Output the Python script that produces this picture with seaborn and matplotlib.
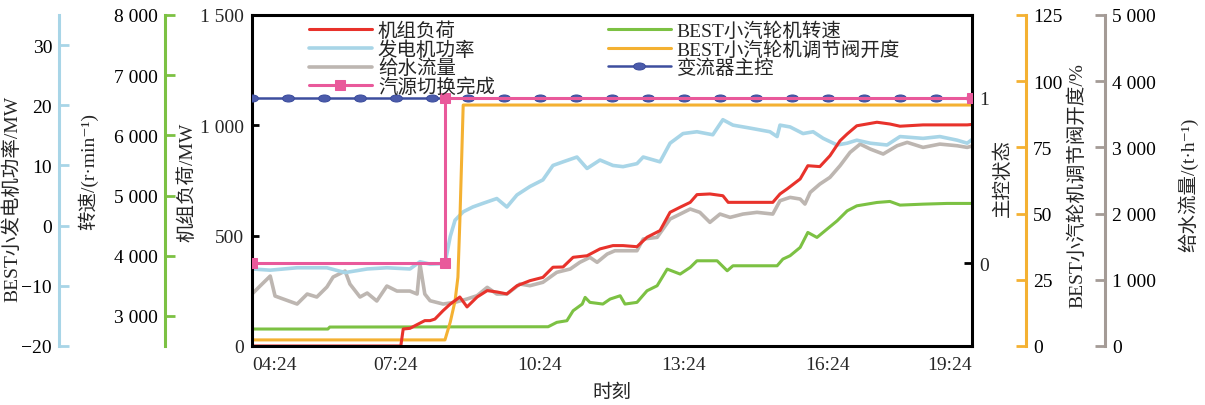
import matplotlib
matplotlib.use("Agg")
import matplotlib.pyplot as plt
from matplotlib.path import Path
import numpy as np
import pandas as pd
import seaborn as sns

# ---------------- data (time in hours of the day) ----------------
time_ticks = ["04:24", "07:24", "10:24", "13:24", "16:24", "19:24"]

# 机组负荷 / MW
load_t = [4.40, 7.50, 7.55, 7.69, 7.84, 8.00, 8.11, 8.21, 8.38, 8.53,
          8.73, 8.88, 9.09, 9.30, 9.50, 9.71, 9.92, 10.19, 10.46, 10.67,
          10.88, 11.09, 11.38, 11.65, 11.92, 12.13, 12.42, 12.63, 12.90, 13.11,
          13.32, 13.53, 13.67, 13.94, 14.21, 14.32, 14.63, 15.25, 15.40, 15.55,
          15.82, 15.98, 16.23, 16.44, 16.65, 16.80, 17.00, 17.42, 17.69, 17.90,
          18.38, 18.80, 19.30, 19.40]
load_mw = [0, 0, 77, 80, 97, 115, 115, 122, 160, 190,
           222, 177, 222, 251, 245, 236, 273, 296, 311, 357,
           358, 402, 409, 440, 455, 455, 450, 493, 523, 606,
           629, 651, 686, 689, 681, 651, 651, 651, 689, 712,
           757, 817, 813, 862, 930, 961, 998, 1014, 1006, 996,
           1002, 1002, 1002, 1004]

# 发电机功率 / MW (BEST small generator)
gen_t = [4.40, 4.78, 5.34, 5.96, 6.34, 6.80, 7.21, 7.69, 7.90, 8.11,
         8.42, 8.53, 8.63, 8.80, 9.00, 9.21, 9.50, 9.71, 9.92, 10.19,
         10.46, 10.67, 10.88, 11.17, 11.38, 11.65, 11.92, 12.13, 12.42, 12.55,
         12.90, 13.11, 13.38, 13.67, 14.00, 14.21, 14.42, 14.78, 15.19, 15.34,
         15.40, 15.61, 15.88, 16.09, 16.30, 16.59, 16.80, 17.00, 17.28, 17.63,
         17.90, 18.38, 18.73, 19.09, 19.30, 19.40]
gen_mw = [-7.2, -7.4, -7.0, -7.0, -7.8, -7.2, -7.0, -7.2, -6.0, -6.4,
          -6.3, -1.8, 0.9, 2.3, 3.1, 3.7, 4.5, 3.1, 5.1, 6.5,
          7.6, 10.0, 10.6, 11.4, 9.5, 10.9, 10.0, 9.8, 10.3, 11.4,
          10.6, 13.7, 15.3, 15.6, 15.1, 17.6, 16.7, 16.2, 15.6, 14.8,
          16.7, 16.4, 15.3, 15.6, 14.5, 13.4, 13.7, 14.2, 13.7, 13.4,
          14.8, 14.5, 14.8, 14.2, 13.7, 14.3]

# 给水流量 / (t/h)
feed_t = [4.40, 4.61, 4.78, 4.88, 5.05, 5.34, 5.55, 5.75, 5.96, 6.09,
          6.34, 6.44, 6.65, 6.80, 7.00, 7.21, 7.42, 7.69, 7.84, 7.90,
          8.00, 8.11, 8.38, 8.63, 8.88, 9.09, 9.30, 9.50, 9.71, 9.98,
          10.19, 10.46, 10.75, 11.03, 11.23, 11.44, 11.59, 11.80, 11.96, 12.13,
          12.42, 12.55, 12.84, 13.11, 13.32, 13.53, 13.73, 13.94, 14.15, 14.36,
          14.63, 14.92, 15.25, 15.40, 15.61, 15.82, 15.92, 16.03, 16.23, 16.44,
          16.65, 16.86, 17.07, 17.28, 17.55, 17.84, 18.05, 18.38, 18.73, 19.09,
          19.30, 19.40]
feed_th = [785, 936, 1057, 755, 710, 634, 785, 740, 891, 1042,
           1133, 936, 740, 800, 680, 906, 830, 830, 785, 1238,
           785, 684, 634, 660, 710, 760, 886, 785, 785, 936,
           911, 962, 1113, 1163, 1264, 1339, 1264, 1389, 1439, 1439,
           1439, 1616, 1641, 1918, 1993, 2069, 2019, 1868, 1993, 1943,
           1993, 2019, 1993, 2194, 2245, 2220, 2144, 2321, 2446, 2547,
           2723, 2925, 3050, 2975, 2900, 3025, 3076, 3000, 3050, 3025,
           3000, 3020]

# BEST小汽轮机转速 / (r/min)
speed_t = [4.40, 5.98, 6.02, 10.57, 10.75, 10.96, 11.09, 11.28, 11.34, 11.44,
           11.71, 11.86, 12.07, 12.17, 12.42, 12.63, 12.84, 13.05, 13.32, 13.53,
           13.67, 14.09, 14.30, 14.42, 15.34, 15.46, 15.61, 15.82, 15.98, 16.17,
           16.38, 16.59, 16.80, 17.00, 17.42, 17.69, 17.90, 18.38, 18.88, 19.40]
speed_rpm = [2782, 2782, 2815, 2820, 2893, 2920, 3086, 3197, 3308, 3225,
             3197, 3280, 3335, 3197, 3225, 3418, 3501, 3778, 3695, 3806,
             3916, 3916, 3750, 3833, 3833, 3944, 4000, 4138, 4387, 4304,
             4442, 4580, 4746, 4829, 4885, 4902, 4841, 4857, 4869, 4869]

# BEST小汽轮机调节阀开度 / %
valve_t = [4.40, 8.42, 8.53, 8.63, 8.69, 8.73, 8.77, 8.80, 19.40]
valve_pct = [2.3, 2.3, 9, 17, 26, 47, 72, 91, 91]

# 汽源切换完成 (state 0/1)
switch_t = [4.40, 8.42, 8.42, 19.40]
switch_state = [0, 0, 1, 1]

# 变流器主控 (state 0/1, sampled every 45 min)
conv_t = [4.40, 5.15, 5.90, 6.65, 7.40, 8.15, 8.90, 9.65, 10.40, 11.15, 11.90,
          12.65, 13.40, 14.15, 14.90, 15.65, 16.40, 17.15, 17.90, 18.65, 19.40]
conv_state = [1, 1, 1, 1, 1, 1, 1, 1, 1, 1, 1,
              1, 1, 1, 1, 1, 1, 1, 1, 1, 1]

# ---------------- style ----------------
sns.set_theme(style="white")
plt.rcParams["font.family"] = ["Liberation Serif", "Noto Sans CJK SC", "DejaVu Sans"]
plt.rcParams["axes.unicode_minus"] = True

FS = 14
C_LOAD = "#e8322b"
C_GEN = "#a8d5e7"
C_FEED = "#bdb6b1"
C_FEED_AX = "#a49b96"
C_SPEED = "#7cc143"
C_VALVE = "#f4b132"
C_SWITCH = "#e9599b"
C_CONV = "#3d4e9e"

fig = plt.figure(figsize=(12.05, 4.06), dpi=100, facecolor="white")
ax = fig.add_axes([252 / 1205, 59 / 406, 720 / 1205, 331 / 406])
ax.patch.set_visible(False)


def side_axis(side, pos, color, lim, ticks, labels, label, label_xy, z):
    a = ax.twinx()
    a.set_zorder(z)
    a.patch.set_visible(False)
    for s in a.spines.values():
        s.set_visible(False)
    sp = a.spines[side]
    sp.set_visible(True)
    sp.set_position(("axes", pos))
    sp.set_color(color)
    sp.set_linewidth(2.2)
    a.yaxis.set_ticks_position(side)
    a.yaxis.set_label_position(side)
    a.set_ylim(*lim)
    a.set_yticks(ticks)
    a.set_yticklabels(labels)
    a.tick_params(axis="y", direction="in", length=7, width=2, color=color,
                  pad=5, labelsize=FS, labelcolor="black")
    a.set_ylabel(label, fontsize=FS)
    a.yaxis.set_label_coords(*label_xy)
    a.yaxis.label.set(ha="center", va="center")
    return a


ax_feed = side_axis("right", 1.1847, C_FEED_AX, (0, 5000),
                    [0, 1000, 2000, 3000, 4000, 5000],
                    ["0", "1 000", "2 000", "3 000", "4 000", "5 000"],
                    "给水流量/(t·h\u207b\u00b9)", (1.300, 0.489), 1)
ax_gen = side_axis("left", -0.268, C_GEN, (-20, 35),
                   [-20, -10, 0, 10, 20, 30],
                   ["\u221220", "\u221210", "0", "10", "20", "30"],
                   "BEST小发电机功率/MW", (-0.333, 0.447), 2)
ax_speed = side_axis("left", -0.1208, C_SPEED, (2500, 8000),
                     [3000, 4000, 5000, 6000, 7000, 8000],
                     ["3 000", "4 000", "5 000", "6 000", "7 000", "8 000"],
                     "转速/(r·min\u207b\u00b9)", (-0.228, 0.529), 3)
ax_valve = side_axis("right", 1.075, C_VALVE, (0, 125),
                     [0, 25, 50, 75, 100, 125],
                     ["0", "25", "50", "75", "100", "125"],
                     "BEST小汽轮机调节阀开度/%", (1.146, 0.489), 4)
ax.set_zorder(5)
ax_state = ax.twinx()
ax_state.set_zorder(6)
ax_state.patch.set_visible(False)
for s in ax_state.spines.values():
    s.set_visible(False)
ax_state.set_ylim(-0.5, 1.5)
ax_state.set_yticks([0, 1])
ax_state.set_yticklabels(["0", "1"])
ax_state.tick_params(axis="y", direction="in", length=6, width=2, color="black",
                     pad=5, labelsize=FS)
ax_state.set_ylabel("主控状态", fontsize=FS)
ax_state.yaxis.set_label_coords(1.042, 0.511)
ax_state.yaxis.label.set(ha="center", va="center")

# ---------------- series ----------------
kw = dict(estimator=None, sort=False, legend=False)
sns.lineplot(x=feed_t, y=feed_th, ax=ax_feed, color=C_FEED, linewidth=2.6, **kw)
h_feed = ax_feed.lines[-1]
sns.lineplot(x=gen_t, y=gen_mw, ax=ax_gen, color=C_GEN, linewidth=2.6, **kw)
h_gen = ax_gen.lines[-1]
sns.lineplot(x=speed_t, y=speed_rpm, ax=ax_speed, color=C_SPEED, linewidth=2.2, **kw)
h_speed = ax_speed.lines[-1]
sns.lineplot(x=valve_t, y=valve_pct, ax=ax_valve, color=C_VALVE, linewidth=2.2, **kw)
h_valve = ax_valve.lines[-1]
sns.lineplot(x=load_t, y=load_mw, ax=ax, color=C_LOAD, linewidth=2.2, **kw)
h_load = ax.lines[-1]

circle = Path.unit_circle()
ellipse = Path(circle.vertices * np.array([1.7, 1.0]), circle.codes)
sns.lineplot(x=conv_t, y=conv_state, ax=ax_state, color=C_CONV, linewidth=1.8,
             marker=ellipse, markersize=8.5, markerfacecolor="#4b5bab",
             markeredgecolor=C_CONV, markeredgewidth=0.8, **kw)
h_conv = ax_state.lines[-1]
sns.lineplot(x=switch_t, y=switch_state, ax=ax_state, color=C_SWITCH, linewidth=2.2,
             marker="s", markersize=7, markerfacecolor=C_SWITCH,
             markeredgecolor=C_SWITCH, **kw)
h_switch = ax_state.lines[-1]

# ---------------- main axes ----------------
tick_pos = [int(s[:2]) + int(s[3:]) / 60 for s in time_ticks]
ax.set_xlim(tick_pos[0], tick_pos[-1])
ax.set_ylim(0, 1500)
ax.set_yticks([0, 500, 1000, 1500])
ax.set_yticklabels(["0", "500", "1 000", "1 500"])
ax.set_xticks(tick_pos)
ax.set_xticklabels(time_ticks)
xl = ax.get_xticklabels()
xl[0].set_ha("left")
xl[-1].set_ha("right")
ax.tick_params(axis="both", direction="in", length=5, width=2, color="black",
               labelsize=FS, pad=6)
ax.tick_params(axis="x", pad=7)
for s in ax.spines.values():
    s.set_color("black")
    s.set_linewidth(2.2)
ax.set_ylabel("机组负荷/MW", fontsize=FS)
ax.yaxis.set_label_coords(-0.090, 0.498)
ax.yaxis.label.set(ha="center", va="center")
ax.set_xlabel("时刻", fontsize=FS, labelpad=8)

handles = [h_load, h_gen, h_feed, h_switch, h_speed, h_valve, h_conv]
labels = ["机组负荷", "发电机功率", "给水流量", "汽源切换完成",
          "BEST小汽轮机转速", "BEST小汽轮机调节阀开度", "变流器主控"]
ax_state.legend(handles, labels, ncol=2, loc="upper left",
                bbox_to_anchor=(0.079, 0.98), frameon=False, fontsize=FS,
                handlelength=3.25, handletextpad=0.3, columnspacing=5.8,
                labelspacing=0.0, borderpad=0, borderaxespad=0)

fig.savefig("out.png", dpi=100, facecolor="white")
